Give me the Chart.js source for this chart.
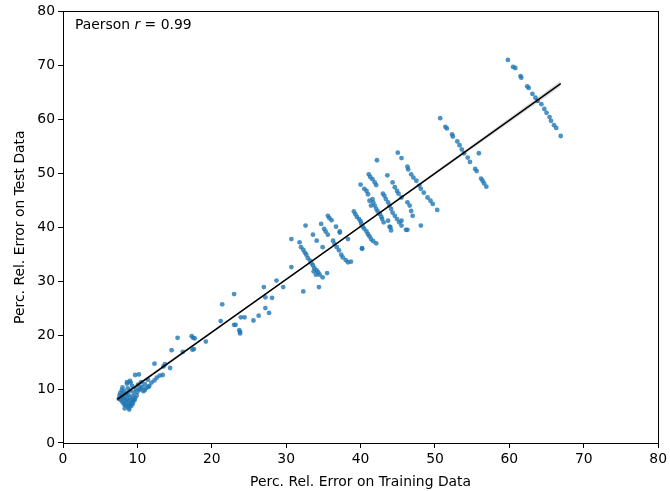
<!DOCTYPE html>
<html>
<head>
  <title>Training vs Test Error</title>
  <script src="https://cdn.jsdelivr.net/npm/chart.js"></script>
  <style>
    body { margin: 0; background: #fff; }
  </style>
</head>
<body>
  <canvas id="chart" width="670" height="491"></canvas>

  <script>
    // [training error, test error]
    const lowCluster = [
      [7.5,8.2],[7.6,8.8],[7.7,9.3],[7.8,7.9],[7.9,8.5],[8.0,9.0],[8.0,7.6],[8.1,8.3],[8.2,9.6],[8.2,7.2],
      [8.3,8.0],[8.4,8.7],[8.4,7.0],[8.5,9.2],[8.5,7.5],[8.6,8.1],[8.7,6.8],[8.7,10.1],[8.8,7.8],[8.8,8.9],
      [8.9,7.3],[8.9,6.6],[9.0,8.4],[9.0,9.7],[9.1,7.1],[9.1,11.2],[9.2,8.0],[9.2,6.9],[9.3,7.6],[9.3,10.6],
      [9.4,8.7],[9.4,7.3],[9.5,9.4],[9.6,7.9],[9.7,8.3],[9.8,10.0],[9.9,8.8],[10.0,9.5],[10.1,10.8],[10.2,12.7],
      [10.3,9.9],[10.5,11.3],[10.6,10.4],[10.8,9.6],[11.0,10.9],[11.2,10.2],[11.4,11.7],[11.6,10.6],[11.9,11.2],
      [12.3,11.6],[12.3,14.7],[12.6,12.1],[13.0,12.5],[13.4,12.6],[13.5,14.2],[13.7,14.6],[14.4,13.9],
      [9.0,11.5],[8.0,10.3],[7.9,9.8],[8.6,11.0],[9.5,8.0],[8.3,6.4],[8.9,6.2],[10.4,10.1],[11.5,10.4],[11.0,9.8],
      [8.6,11.3],[9.7,12.6]
    ];
    const midPoints = [
      [14.6,17.2],[15.4,19.5],[16.1,16.9],[17.3,19.8],[17.5,19.5],[17.7,19.4],[17.4,17.3],[17.6,17.4],[19.2,18.8],
      [21.2,22.6],[21.4,25.7],[23.0,27.6],[23.0,21.9],[23.2,21.9],[23.7,20.9],[23.8,20.6],[23.8,20.3],[23.9,23.3],
      [24.4,23.3],[25.6,22.7],[26.3,23.6],[27.2,25.0],[27.7,24.1],[27.0,28.9],[27.2,27.0],[28.1,26.9],[28.7,30.1],
      [29.6,28.9]
    ];
    const streak30s = [
      [31.8,37.2],[32.0,36.3],[32.3,35.8],[32.5,35.3],[32.7,34.9],[32.9,34.3],[33.2,33.8],[33.4,33.3],[33.6,32.9],
      [33.8,32.4],[34.1,32.0],[34.3,31.6],[34.5,31.2],[34.9,30.7],[33.7,31.8],[34.0,31.2],[35.5,31.5],[30.7,37.8],
      [30.7,32.6],[32.3,28.1],[34.4,28.9],[33.6,38.6],[32.6,40.3],[34.1,37.5],[34.9,36.3],
      [34.7,40.6],[35.1,39.7],[35.3,39.2],[35.6,42.1],[35.8,41.7],[36.1,41.3],[35.6,38.6],[36.3,37.5],[36.5,36.9],
      [36.8,36.3],[37.1,35.7],[37.4,34.9],[37.6,34.4],[38.0,33.9],[38.3,33.5],[38.7,33.6],[36.7,40.1],[37.2,39.0],
      [38.3,37.8]
    ];
    const streak40s = [
      [39.1,42.9],[39.3,42.4],[39.5,41.9],[39.8,41.5],[40.0,41.1],[40.1,40.6],[40.3,40.1],[40.5,39.7],[40.8,39.2],
      [41.0,38.7],[41.2,38.3],[41.4,37.8],[41.7,37.4],[40.2,36.1],[37.2,39.2],[40.2,36.0],[42.1,37.0],
      [41.1,49.8],[41.3,49.3],[41.6,48.9],[41.9,48.3],[42.1,47.8],[41.6,45.2],[41.7,44.6],[41.9,44.0],[42.1,43.4],
      [42.3,42.9],[42.6,42.4],[42.8,41.9],[42.9,41.5],[43.1,40.9],[40.8,46.7],[41.0,46.1],[41.2,44.9],[41.4,44.0],
      [40.0,47.9],[40.5,47.1],
      [43.0,46.2],[43.2,45.8],[43.4,45.2],[43.7,44.6],[43.9,44.0],[44.1,43.4],[44.3,42.7],[44.6,42.1],[44.9,41.5],
      [45.2,40.9],[45.5,40.3],[44.0,40.0],[44.1,39.4],[43.7,41.2],[43.9,40.1],[46.1,39.5],[45.5,41.2],
      [44.3,48.3],[44.6,47.4],[44.9,46.7],[45.1,46.2],[45.5,45.5],[46.3,44.6],[46.6,44.0],[46.8,43.0],[47.0,42.1],
      [48.1,40.3],[46.3,39.5],[42.2,52.4],[43.6,49.6],
      [45.0,53.8],[45.5,52.8],[46.3,51.2],[46.4,50.7],[46.8,49.8],[47.1,49.2],[47.5,48.6],[47.9,47.7],[48.1,47.1],
      [48.5,46.4],[49.0,45.5],[49.4,44.9],[49.7,44.3],[50.3,43.2]
    ];
    const streak50s = [
      [50.7,60.2],[51.4,58.6],[51.6,58.3],[52.3,57.2],[52.4,56.8],[53.0,55.9],[53.3,55.2],[53.6,54.4],[53.9,53.7],
      [54.4,52.9],[54.7,52.1],[55.9,53.7],[55.4,50.8],[55.6,50.4],[56.2,49.0],[56.4,48.6],[56.6,48.1],[56.9,47.5]
    ];
    const streak60s = [
      [59.8,71.0],[60.5,69.7],[60.8,69.5],[61.5,68.0],[61.6,67.7],[62.4,66.1],[62.6,65.8],[63.1,64.7],[63.5,64.0],
      [63.8,63.4],[64.3,62.8],[64.7,61.9],[65.0,61.2],[65.4,60.4],[65.6,59.7],[66.0,58.9],[66.3,58.4],[66.9,56.9]
    ];

    // fitted line and its confidence band
    const fitX = [7.3, 37.0, 66.9];
    const fitY = [8.1, 37.2, 66.6];
    const bandHalf = [0.35, 0.1, 0.55];

    const pearsonR = "0.99";
    const xTicks = [0, 10, 20, 30, 40, 50, 60, 70, 80];

    const allPoints = [].concat(lowCluster, midPoints, streak30s, streak40s, streak50s, streak60s)
      .map(p => ({ x: p[0], y: p[1] }));

    const FONT = "'DejaVu Sans', sans-serif";

    const boxPlugin = {
      id: "box",
      afterDraw(chart) {
        const ctx = chart.ctx;
        const a = chart.chartArea;
        ctx.save();
        ctx.strokeStyle = "#000";
        ctx.lineWidth = 1;
        ctx.strokeRect(Math.round(a.left) + 0.5, Math.round(a.top) + 0.5,
          Math.round(a.right - a.left), Math.round(a.bottom - a.top));
        // annotation
        ctx.fillStyle = "#000";
        ctx.textBaseline = "alphabetic";
        let x = a.left + 12, y = a.top + 18;
        ctx.font = "13.9px " + FONT;
        ctx.fillText("Paerson ", x, y);
        x += ctx.measureText("Paerson ").width;
        ctx.font = "italic 13.9px " + FONT;
        ctx.fillText("r", x, y);
        x += ctx.measureText("r").width;
        ctx.font = "13.9px " + FONT;
        ctx.fillText(" = " + pearsonR, x, y);
        ctx.restore();
      }
    };

    function axis(title, isX) {
      return {
        type: "linear",
        min: 0,
        max: 80,
        afterBuildTicks: s => { s.ticks = xTicks.map(v => ({ value: v })); },
        afterFit: s => { if (isX) s.height = 48; else s.width = 63; },
        border: { display: false },
        grid: { drawOnChartArea: false, drawTicks: true, tickLength: 5, tickColor: "#000", tickWidth: 1 },
        ticks: { color: "#000", padding: 3, font: { family: FONT, size: 13.9 } },
        title: { display: true, text: title, color: "#000", padding: isX ? { top: 3, bottom: 0 } : { top: 12, bottom: 4 },
          font: { family: FONT, size: 13.9 } }
      };
    }

    new Chart(document.getElementById("chart").getContext("2d"), {
      type: "scatter",
      data: {
        datasets: [
          {
            label: "fit",
            data: fitX.map((x, i) => ({ x: x, y: fitY[i] })),
            showLine: true, borderColor: "#000", borderWidth: 1.5, pointRadius: 0, order: 0, fill: false
          },
          {
            label: "band upper",
            data: fitX.map((x, i) => ({ x: x, y: fitY[i] + bandHalf[i] })),
            showLine: true, borderWidth: 0, pointRadius: 0, order: 1,
            fill: 2, backgroundColor: "rgba(0,0,0,0.15)"
          },
          {
            label: "band lower",
            data: fitX.map((x, i) => ({ x: x, y: fitY[i] - bandHalf[i] })),
            showLine: true, borderWidth: 0, pointRadius: 0, order: 1, fill: false
          },
          {
            label: "points",
            data: allPoints,
            pointRadius: 2.4, pointBorderWidth: 0,
            backgroundColor: "rgba(31,119,180,0.8)", order: 2
          }
        ]
      },
      options: {
        responsive: false,
        animation: false,
        layout: { padding: { left: 0, top: 10, right: 11, bottom: 0 } },
        plugins: { legend: { display: false }, tooltip: { enabled: false } },
        scales: {
          x: axis("Perc. Rel. Error on Training Data", true),
          y: axis("Perc. Rel. Error on Test Data", false)
        }
      },
      plugins: [boxPlugin]
    });
  </script>
</body>
</html>
